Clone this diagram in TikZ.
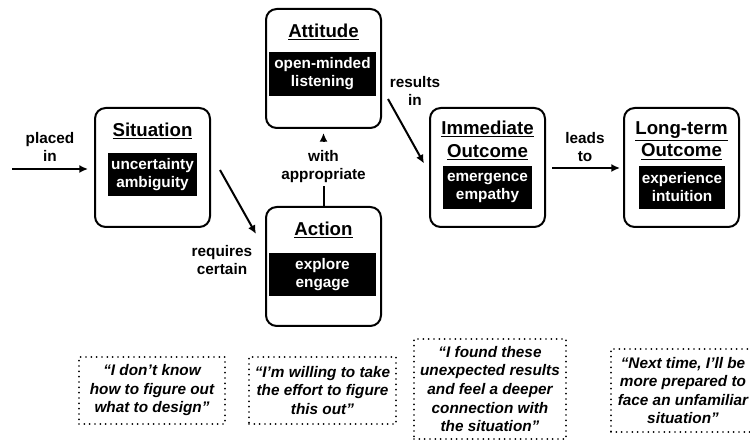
\documentclass[tikz,border=0pt]{standalone}
\usepackage{fontspec}
\setmainfont{Liberation Sans}
\usetikzlibrary{calc}
\usetikzlibrary{arrows.meta}

\tikzset{
  stagebox/.style={draw, line width=1.5pt, rounded corners=8pt,
    minimum width=86.25pt, minimum height=89.25pt},
  stagetitle/.style={font=\fontsize{14}{17}\selectfont\bfseries,
    align=center, inner sep=0pt},
  keywords/.style={fill=black, text=white, align=center, inner sep=0pt,
    font=\fontsize{11.5}{13.5}\selectfont\bfseries, minimum height=32.5pt},
  linklabel/.style={font=\fontsize{11.5}{13.5}\selectfont\bfseries,
    align=center, inner sep=2pt},
  quotebox/.style={draw, line width=1.4pt, line cap=round,
    dash pattern=on 0pt off 4pt, align=center, inner sep=0pt,
    font=\fontsize{11.5}{13.9}\selectfont\bfseries\itshape},
}

\begin{document}
\begin{tikzpicture}[x=0.75pt, y=-0.75pt,
    >={Latex[length=6.5pt, width=6pt]}]
  \clip (0,0) rectangle (750,441);
  % the five stages
  \foreach \n/\x/\y in {sit/152.5/167.5, att/323.5/68.5, act/323.5/266.5,
                        imm/487.5/167.5, lng/681.5/167.5}{
    \node[stagebox] (\n) at (\x,\y) {};
  }
  \node[stagetitle] (sittitle) at (152.5,131) {\underline{Situation}};
  \node[stagetitle] (atttitle) at (323.5,32) {\underline{Attitude}};
  \node[stagetitle] (acttitle) at (323.5,230) {\underline{Action}};
  \node[stagetitle] (immtitle) at (487.5,140.5)
    {\underline{Immediate}\\\underline{Outcome}};
  \node[stagetitle] (lngtitle) at (681.5,140.5)
    {\underline{Long-term}\\\underline{Outcome}};

  \node[keywords, minimum width=66.75pt] (sitwords) at (152.5,174.5)
    {uncertainty\\ambiguity};
  \node[keywords, minimum width=80.25pt] (attwords) at (322.5,74)
    {open-minded\\listening};
  \node[keywords, minimum width=80.25pt] (actwords) at (322.5,274.5)
    {explore\\engage};
  \node[keywords, minimum width=66.75pt] (immwords) at (487.5,187.5)
    {emergence\\empathy};
  \node[keywords, minimum width=64.5pt] (lngwords) at (682,187.5)
    {experience\\intuition};

  % links
  \coordinate (inp) at (12,169);
  \node[linklabel] (placed) at (50,147) {placed\\in};
  \node[linklabel] (requires) at (222,260.5) {requires\\certain};
  \node[linklabel] (withlbl) at (323.5,166.5) {with\\appropriate};
  \node[linklabel] (results) at (415,91) {results\\in};
  \node[linklabel] (leads) at (585,147.5) {leads\\to};

  \begin{scope}[line width=1.5pt]
    \draw[->] (inp) -- ($(sit.west)+(-6,1.5)$);
    \draw[->] ($(sit.east)+(9,2.5)$) -- ($(act.north west)+(-9,28)$);
    \draw (act.north) -- (withlbl.south);
    \draw[->] ($(withlbl.north)+(0,-6)$) -- ($(att.south)+(0,4)$);
    \draw[->] ($(att.south east)+(6,-30)$) -- ($(imm.west)+(-5,-4)$);
    \draw[->] ($(imm.east)+(6,0.5)$) -- ($(lng.west)+(-3,0.5)$);
  \end{scope}

  % what the students said
  \node[quotebox, minimum width=109.5pt, minimum height=50.25pt] (q1)
    at (152,390.5) {“I don't know\\how to figure out\\what to design”};
  \node[quotebox, minimum width=110.25pt, minimum height=50.25pt] (q2)
    at (322.5,390.5) {“I'm willing to take\\the effort to figure\\this out”};
  \node[quotebox, minimum width=114pt, minimum height=75pt] (q3)
    at (490,389) {“I found these\\unexpected results\\and feel a deeper\\connection with\\the situation”};
  \node[quotebox, minimum width=108pt, minimum height=62.25pt] (q4)
    at (683,390.5) {“Next time, I'll be\\more prepared to\\face an unfamiliar\\situation”};
\end{tikzpicture}
\end{document}
